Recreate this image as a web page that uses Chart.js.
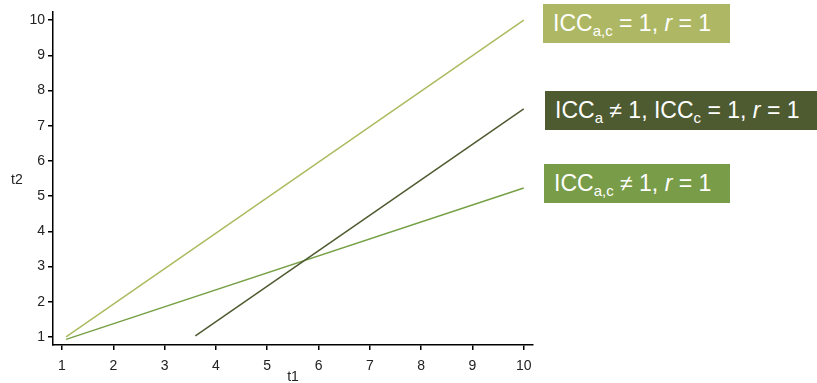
<!DOCTYPE html>
<html>
<head>
<meta charset="utf-8">
<script src="https://cdn.jsdelivr.net/npm/chart.js@4.4.0/dist/chart.umd.min.js"></script>
<style>
  html, body { margin: 0; padding: 0; background: #fff; }
  #wrap { position: relative; width: 817px; height: 383px; }
  canvas { position: absolute; left: 0; top: 0; }
  .lbl {
    position: absolute; color: #fff; font-family: "Liberation Sans", Arial, sans-serif;
    font-size: 23px; line-height: 39px; height: 39px; padding-left: 10px; box-sizing: border-box;
    white-space: nowrap;
  }
  .lbl sub { font-size: 15px; vertical-align: -5px; line-height: 0; }
  #ytitle {
    position: absolute; left: 11px; top: 171px; font-family: "Liberation Sans", Arial, sans-serif;
    font-size: 14px; color: #222;
  }
</style>
</head>
<body>
<div id="wrap">
  <canvas id="c" width="817" height="383"></canvas>
  <div id="ytitle">t2</div>
  <div class="lbl" style="left:543px;top:4px;width:187px;background:#aeb864;">ICC<sub>a,c</sub> = 1, <i>r</i> = 1</div>
  <div class="lbl" style="left:545px;top:91px;width:272px;background:#4e5a30;">ICC<sub>a</sub> ≠ 1, ICC<sub>c</sub> = 1, <i>r</i> = 1</div>
  <div class="lbl" style="left:544px;top:164px;width:186px;background:#789c48;">ICC<sub>a,c</sub> ≠ 1, <i>r</i> = 1</div>
</div>
<script>
// tick labels
const xTicks = [1, 2, 3, 4, 5, 6, 7, 8, 9, 10];
const yTicks = [1, 2, 3, 4, 5, 6, 7, 8, 9, 10];

// line end points
const lineAC1 = [{x: 1.08, y: 1.0}, {x: 10, y: 10}];
const lineA = [{x: 3.6, y: 1.03}, {x: 10, y: 7.48}];
const lineACnot1 = [{x: 1.08, y: 0.93}, {x: 10, y: 5.23}];

const font = {family: '"Liberation Sans", Arial, sans-serif', size: 14};

new Chart(document.getElementById('c'), {
  type: 'scatter',
  data: {
    datasets: [
      {data: lineAC1, showLine: true, borderColor: '#abbb5f', borderWidth: 1.5, pointRadius: 0},
      {data: lineA, showLine: true, borderColor: '#4e5a30', borderWidth: 1.5, pointRadius: 0},
      {data: lineACnot1, showLine: true, borderColor: '#76a045', borderWidth: 1.5, pointRadius: 0}
    ]
  },
  options: {
    responsive: false,
    animation: false,
    layout: {padding: {left: 0, right: 284, top: 12, bottom: 0}},
    plugins: {legend: {display: false}, tooltip: {enabled: false}},
    scales: {
      x: {
        type: 'linear', min: 0.825, max: 10.18,
        afterBuildTicks: s => { s.ticks = xTicks.map(v => ({value: v})); },
        afterFit: s => { s.height = 38; },
        border: {display: true, color: '#000', width: 1.5},
        grid: {drawOnChartArea: false, drawTicks: true, tickLength: 5, color: '#000', lineWidth: 1.5},
        ticks: {color: '#222', font: font, padding: 8, maxRotation: 0},
        title: {display: true, text: 't1', color: '#222', font: {family: font.family, size: 14, lineHeight: 1}, padding: {top: 0, bottom: -1}}
      },
      y: {
        type: 'linear', min: 0.77, max: 10.23,
        afterBuildTicks: s => { s.ticks = yTicks.map(v => ({value: v})); },
        afterFit: s => { s.width = 53; },
        border: {display: true, color: '#000', width: 1.5},
        grid: {drawOnChartArea: false, drawTicks: true, tickLength: 5, color: '#000', lineWidth: 1.5},
        ticks: {color: '#222', font: font, padding: 3}
      }
    }
  }
});
</script>
</body>
</html>
